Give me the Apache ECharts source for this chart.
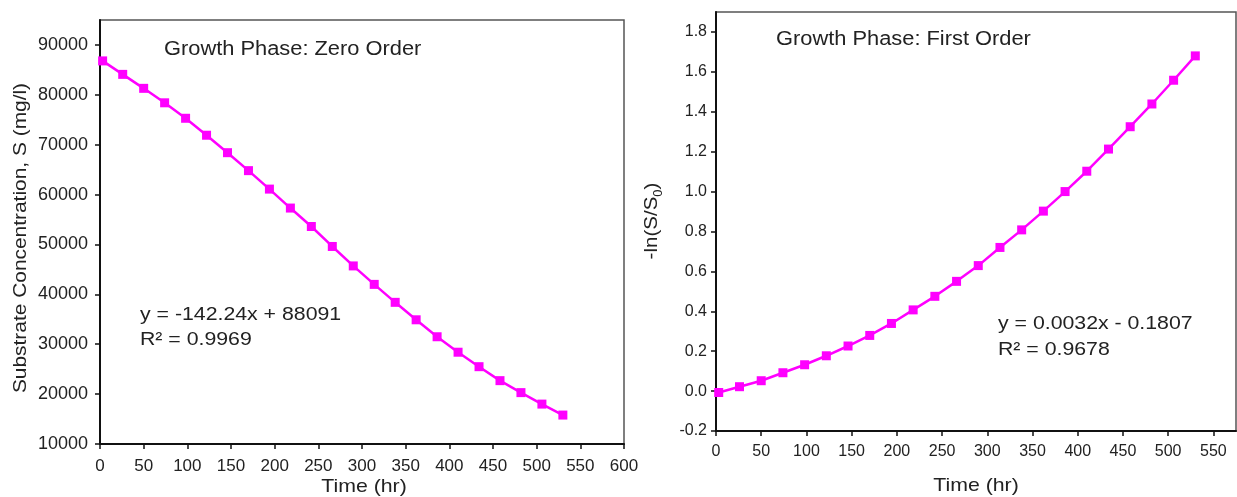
<!DOCTYPE html>
<html>
<head>
<meta charset="utf-8">
<script src="https://cdn.jsdelivr.net/npm/echarts@6/dist/echarts.min.js"></script>
<style>
html,body{margin:0;padding:0;background:#fff;}
#chart{width:1237px;height:497px;}
</style>
</head>
<body>
<div id="chart"></div>
<script>
// Time points (hr)
var timeHr = [3, 26, 50, 74, 98, 122, 146, 170, 194, 218, 242, 266, 290, 314, 338, 362, 386, 410, 434, 458, 482, 506, 530];
// Left panel: substrate concentration S (mg/l)
var substrate = [86800, 84100, 81300, 78400, 75300, 71900, 68400, 64800, 61100, 57300, 53600, 49600, 45700, 42000, 38400, 34900, 31500, 28400, 25500, 22700, 20300, 18000, 15800];
// Right panel: -ln(S/S0)
var negLnRatio = [-0.007, 0.022, 0.052, 0.092, 0.132, 0.177, 0.226, 0.279, 0.339, 0.407, 0.475, 0.550, 0.629, 0.720, 0.808, 0.902, 1.000, 1.102, 1.213, 1.325, 1.439, 1.558, 1.680];

// Tick values
var leftXTicks = [0, 50, 100, 150, 200, 250, 300, 350, 400, 450, 500, 550, 600];
var leftYTicks = [10000, 20000, 30000, 40000, 50000, 60000, 70000, 80000, 90000];
var rightXTicks = [0, 50, 100, 150, 200, 250, 300, 350, 400, 450, 500, 550];
var rightYTicks = [-0.2, 0, 0.2, 0.4, 0.6, 0.8, 1.0, 1.2, 1.4, 1.6, 1.8];

// Texts
var leftTitle = 'Growth Phase: Zero Order';
var rightTitle = 'Growth Phase: First Order';
var leftEq = ['y = -142.24x + 88091', 'R\u00b2 = 0.9969'];
var rightEq = ['y = 0.0032x - 0.1807', 'R\u00b2 = 0.9678'];
var xName = 'Time (hr)';
var leftYName = 'Substrate Concentration, S (mg/l)';
var rightYNameMain = '-ln(S/S';
var rightYNameSub = '0';
var rightYNameEnd = ')';

var FONT = '"Liberation Sans", Arial, sans-serif';
var TXT = '#222';
var MAG = '#ff00ff';

function pairs(xs, ys){ return xs.map(function(x,i){ return [x, ys[i]]; }); }

function makeAxis(grid, min, max, ticks, fs, margin, formatter){
  return {
    type: 'value', gridIndex: grid, min: min, max: max,
    axisLine: {show: true, onZero: false, lineStyle: {color: '#111', width: 2}},
    axisTick: {show: true, inside: false, length: 5, customValues: ticks, lineStyle: {color: '#111', width: 1.5}},
    splitLine: {show: false},
    axisLabel: {color: TXT, fontFamily: FONT, fontSize: fs, margin: margin, customValues: ticks, formatter: formatter}
  };
}

function plain(v){ return String(v); }
function oneDec(v){ return (Math.abs(v) < 1e-9 ? 0 : v).toFixed(1); }

function gtext(x, y, text, size, opts){
  opts = opts || {};
  return {
    type: 'text', x: x, y: y, rotation: opts.rotation || 0,
    scaleX: opts.scaleX || 1.12, z: 100,
    style: {text: text, fontFamily: FONT, fontSize: size, fill: TXT,
            align: opts.align || 'left', verticalAlign: 'middle', rich: opts.rich}
  };
}

var chart = echarts.init(document.getElementById('chart'), null, {renderer: 'canvas'});
chart.setOption({
  animation: false,
  backgroundColor: '#fff',
  grid: [
    {left: 100, top: 20, width: 524, height: 424, show: true, borderColor: '#555', borderWidth: 1.5, backgroundColor: 'transparent'},
    {left: 716, top: 12, width: 520, height: 419, show: true, borderColor: '#555', borderWidth: 1.5, backgroundColor: 'transparent'}
  ],
  xAxis: [
    makeAxis(0, 0, 600, leftXTicks, 17, 14, plain),
    makeAxis(1, 0, 575, rightXTicks, 16, 13, plain)
  ],
  yAxis: [
    makeAxis(0, 10000, 95000, leftYTicks, 18, 12, plain),
    makeAxis(1, -0.2, 1.9, rightYTicks, 16, 9, oneDec)
  ],
  series: [
    {type: 'line', xAxisIndex: 0, yAxisIndex: 0, data: pairs(timeHr, substrate),
     symbol: 'rect', symbolSize: 9, lineStyle: {color: MAG, width: 2.5}, itemStyle: {color: MAG}},
    {type: 'line', xAxisIndex: 1, yAxisIndex: 1, data: pairs(timeHr, negLnRatio),
     symbol: 'rect', symbolSize: 9, lineStyle: {color: MAG, width: 2.5}, itemStyle: {color: MAG}}
  ],
  graphic: [
    gtext(164, 50, leftTitle, 19.5),
    gtext(776, 40, rightTitle, 19.5),
    gtext(140, 315, leftEq[0], 19),
    gtext(140, 340, leftEq[1], 19),
    gtext(998, 324, rightEq[0], 19),
    gtext(998, 350, rightEq[1], 19),
    gtext(364, 487, xName, 19, {align: 'center'}),
    gtext(976, 486, xName, 19, {align: 'center'}),
    gtext(21, 238, leftYName, 19, {align: 'center', rotation: Math.PI / 2, scaleX: 1.1}),
    gtext(652, 221, '{a|' + rightYNameMain + '}{b|' + rightYNameSub + '}{a|' + rightYNameEnd + '}', 19, {
      align: 'center', rotation: Math.PI / 2, scaleX: 1.08,
      rich: {
        a: {fontFamily: FONT, fontSize: 19, lineHeight: 26, fill: TXT, verticalAlign: 'middle'},
        b: {fontFamily: FONT, fontSize: 12, lineHeight: 12, fill: TXT, verticalAlign: 'bottom'}
      }
    })
  ]
});
</script>
</body>
</html>
